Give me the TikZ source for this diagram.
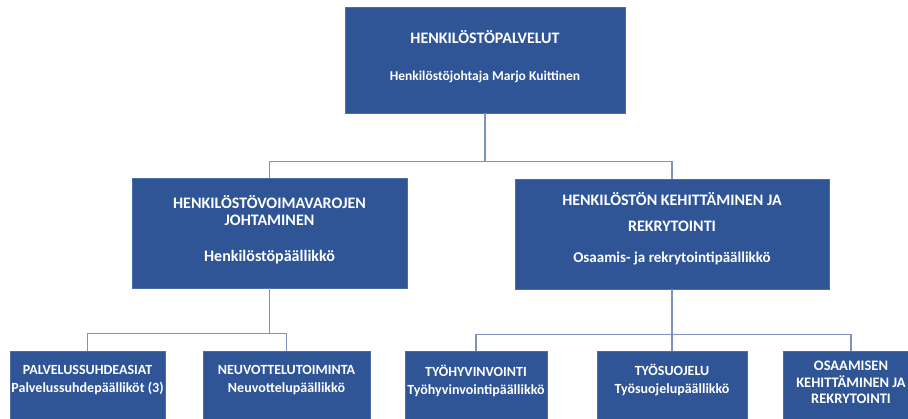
\documentclass[tikz,border=0pt]{standalone}
\usepackage{fontspec}
\setmainfont{Carlito}
\usetikzlibrary{positioning}
\definecolor{boxblue}{HTML}{2F5597}
\definecolor{boxedge}{HTML}{4A6EA9}
\definecolor{linkgray}{HTML}{7F93B8}
\newcommand{\fs}[2]{\bfseries\fontsize{#1}{#2}\selectfont}
\tikzset{
  unit/.style={draw=boxedge, line width=0.8pt, fill=boxblue, inner sep=0pt},
  lbl/.style={text=white, font=\fs{16}{17}, align=center, inner sep=0pt},
  lblsmall/.style={lbl, font=\fs{14}{18}},
  link/.style={draw=linkgray, line width=1.3pt}
}
\begin{document}
\begin{tikzpicture}[x=1pt,y=-1pt]
\clip (0,0) rectangle (908,418);
\fill[white] (0,0) rectangle (908,418);

% johto
\node[unit, minimum width=280pt, minimum height=106pt] (hr) at (485,60) {};
\node[lbl] (hrT) at (485,37) {HENKILÖSTÖPALVELUT};
\node[lbl, font=\fs{13.5}{17}] (hrS) at (485,77) {Henkilöstöjohtaja Marjo Kuittinen};

% yksiköt
\node[unit, minimum width=275pt, minimum height=110pt] (hv) at (269.5,233) {};
\node[lbl] (hvT) at (269.5,210.5) {HENKILÖSTÖVOIMAVAROJEN\\JOHTAMINEN};
\node[lbl] (hvS) at (269.5,257) {Henkilöstöpäällikkö};
\node[unit, minimum width=314pt, minimum height=110pt] (kr) at (672,234) {};
\node[lbl, font=\fs{16}{26}] (krT) at (672,212) {HENKILÖSTÖN KEHITTÄMINEN JA\\REKRYTOINTI};
\node[lbl, font=\fs{15}{17}] (krS) at (672,258) {Osaamis- ja rekrytointipäällikkö};

% tiimit
\node[unit, minimum width=155pt, minimum height=100pt] (ps) at (87.5,401) {};
\node[lblsmall] (psT) at (87.5,380) {PALVELUSSUHDEASIAT\\Palvelussuhdepäälliköt (3)};
\node[unit, minimum width=167pt, minimum height=100pt] (nv) at (286.5,401) {};
\node[lblsmall] (nvT) at (286.5,380) {NEUVOTTELUTOIMINTA\\Neuvottelupäällikkö};
\node[unit, minimum width=142pt, minimum height=100pt] (th) at (476,401) {};
\node[lblsmall] (thT) at (476,380.5) {TYÖHYVINVOINTI\\Työhyvinvointipäällikkö};
\node[unit, minimum width=150pt, minimum height=100pt] (ts) at (672,401) {};
\node[lblsmall] (tsT) at (672,380) {TYÖSUOJELU\\Työsuojelupäällikkö};
\node[unit, minimum width=136pt, minimum height=100pt] (os) at (851,401) {};
\node[lblsmall, font=\fs{14.5}{16.5}] (osT) at (851,382.5) {OSAAMISEN\\KEHITTÄMINEN JA\\REKRYTOINTI};

% viivat
\draw[link] (hr.south) -- ++(0,48) -| (hv.north);
\draw[link] (hr.south) -- ++(0,48) -| (kr.north);
\draw[link] (hv.south) -- ++(0,45) -| (ps.north);
\draw[link] (hv.south) -- ++(0,45) -| (nv.north);
\draw[link] (kr.south) -- ++(0,45) -| (th.north);
\draw[link] (kr.south) -- (ts.north);
\draw[link] (kr.south) -- ++(0,45) -| (os.north);
\end{tikzpicture}
\end{document}
